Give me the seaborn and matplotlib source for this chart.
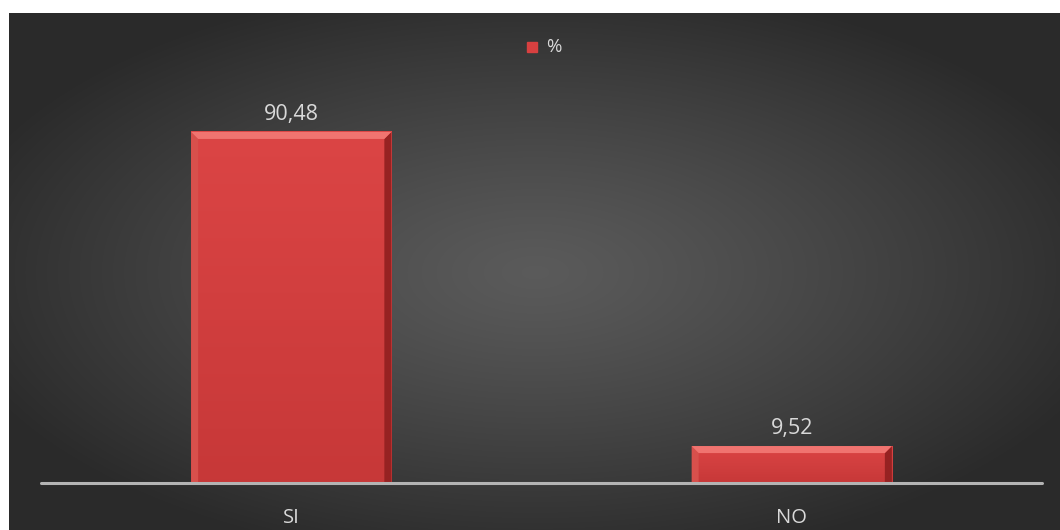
import numpy as np
import matplotlib
matplotlib.use("Agg")
import matplotlib.pyplot as plt
from matplotlib.patches import Polygon, Rectangle
import seaborn as sns

# Survey answers and their share in percent
categories = ["SI", "NO"]
values = [90.48, 9.52]
value_labels = ["90,48", "9,52"]
series_name = "%"

sns.set_theme(style="white")
plt.rcParams["font.family"] = ["Open Sans", "DejaVu Sans"]

W, H, DPI = 1060, 530, 100
fig = plt.figure(figsize=(W / DPI, H / DPI), dpi=DPI)
fig.patch.set_facecolor("white")

# Dark radial-gradient panel behind the chart
bg = fig.add_axes([9 / W, 0, 1 - 9 / W, (H - 13) / H])
bg.set_axis_off()
ny, nx = 260, 520
yy, xx = np.mgrid[0:ny, 0:nx]
r = np.sqrt(((xx - nx / 2) / (nx / 2)) ** 2 + ((yy - ny / 2) / (ny / 2)) ** 2)
t = np.clip(r / 1.15, 0, 1) ** 1.2
center, edge = 0.355, 0.165
shade = center + (edge - center) * t
bg.imshow(np.dstack([shade] * 3), aspect="auto", extent=[0, 1, 0, 1],
          interpolation="bilinear")
bg.set_xlim(0, 1)
bg.set_ylim(0, 1)

# Plot area
ax = fig.add_axes([41 / W, 47 / H, 1001 / W, 388 / H])
ax.patch.set_alpha(0)

bar_color = "#d84040"
sns.barplot(x=categories, y=values, color=bar_color, saturation=1,
            width=0.4, ax=ax, edgecolor="none", zorder=3)

ax.set_xlim(-0.5, 1.5)
ax.set_ylim(0, 100)

# Bevelled look for each bar
px_x = 1001 / 2.0   # pixels per x unit
px_y = 388 / 100.0  # pixels per y unit
bx, by = 7 / px_x, 7 / px_y
top_rgb = np.array([0.86, 0.27, 0.27])
bot_rgb = np.array([0.78, 0.22, 0.22])
for p in ax.patches[:]:
    x0, w, h = p.get_x(), p.get_width(), p.get_height()
    x1 = x0 + w
    # soft vertical shading of the bar face
    g = np.linspace(0, 1, 64)[:, None, None]
    grad = top_rgb * (1 - g) + bot_rgb * g
    ax.imshow(grad, extent=[x0, x1, 0, h], aspect="auto", zorder=3.1,
              interpolation="bilinear")
    # top highlight
    ax.add_patch(Polygon([(x0, h), (x1, h), (x1 - bx, h - by), (x0 + bx, h - by)],
                         closed=True, color="#f07470", lw=0, zorder=3.3))
    # left edge
    ax.add_patch(Polygon([(x0, h), (x0 + bx, h - by), (x0 + bx, 0), (x0, 0)],
                         closed=True, color="#d8504c", lw=0, zorder=3.2))
    # right edge
    ax.add_patch(Polygon([(x1, h), (x1 - bx, h - by), (x1 - bx, 0), (x1, 0)],
                         closed=True, color="#962222", lw=0, zorder=3.2))

ax.set_xlim(-0.5, 1.5)
ax.set_ylim(0, 100)

# Value labels above bars
for i, (v, lab) in enumerate(zip(values, value_labels)):
    ax.annotate(lab, (i, v), xytext=(0, 5), textcoords="offset points",
                ha="center", va="bottom", color="#d9d9d9", fontsize=15.5)

# Axes styling
for s in ax.spines.values():
    s.set_visible(False)
ax.axhline(0, color="#b4b4b4", lw=2.2, zorder=4, clip_on=False)
ax.set_yticks([])
ax.set_xlabel("")
ax.tick_params(axis="x", length=0, pad=18, labelsize=14.5, labelcolor="#d9d9d9")

# Legend
fig.patches.append(Rectangle((527 / W, 1 - 52 / H), 10 / W, 10 / H,
                             transform=fig.transFigure, color=bar_color,
                             figure=fig))
fig.text(546 / W, 1 - 47 / H, series_name, color="#d9d9d9", fontsize=13.5,
         va="center", ha="left")

fig.savefig("out.png", dpi=DPI)
